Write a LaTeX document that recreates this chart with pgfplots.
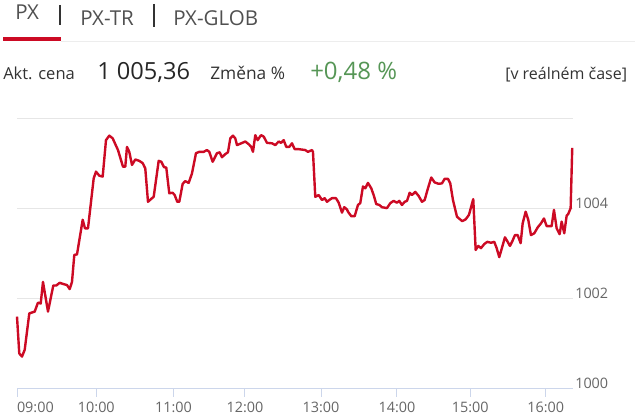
\documentclass[border=0pt]{standalone}
\usepackage{pgfplots}
\pgfplotsset{compat=1.18}
\usepackage{pgfplotstable}
\usepackage{fontspec}
\setmainfont{Open Sans}

\definecolor{pxred}{RGB}{204,10,36}
\definecolor{pxgreen}{RGB}{86,150,86}
\definecolor{gridgray}{RGB}{230,230,230}
\definecolor{axisblue}{RGB}{204,214,235}
\definecolor{ticktext}{RGB}{102,102,102}
\definecolor{headgray}{RGB}{80,80,80}
\definecolor{darktext}{RGB}{51,51,51}

% minutes after 09:00, index value
\pgfplotstableread{
t v
0.00 1001.61
1.80 1000.79
3.97 1000.72
6.11 1000.87
9.77 1001.68
14.05 1001.72
16.67 1001.92
18.82 1001.90
20.64 1002.38
24.61 1001.72
28.82 1002.30
31.20 1002.30
33.90 1002.36
37.08 1002.33
39.70 1002.31
41.84 1002.22
43.67 1002.38
45.50 1002.98
47.64 1002.99
52.16 1003.76
53.99 1003.57
56.37 1003.57
60.90 1004.68
62.72 1004.83
65.35 1004.74
68.04 1004.72
70.66 1005.53
73.28 1005.63
75.98 1005.57
80.19 1005.31
84.16 1004.94
85.99 1004.94
87.34 1005.38
89.16 1005.27
91.31 1004.98
93.93 1005.10
97.10 1005.07
99.80 1005.02
101.87 1004.90
104.01 1004.16
107.19 1004.24
108.54 1004.27
112.51 1005.07
114.57 1005.05
116.72 1004.93
118.54 1004.92
120.92 1004.35
123.62 1004.36
125.21 1004.31
127.28 1004.16
128.86 1004.16
131.56 1004.56
133.62 1004.62
136.32 1004.58
138.95 1004.79
142.12 1005.24
144.74 1005.27
148.24 1005.27
150.86 1005.31
152.68 1005.27
155.38 1005.05
158.80 1005.24
160.94 1005.26
162.77 1005.15
165.39 1005.22
167.53 1005.26
169.36 1005.57
171.50 1005.63
173.33 1005.57
174.68 1005.42
178.09 1005.46
181.27 1005.50
183.97 1005.44
186.03 1005.38
187.38 1005.27
189.21 1005.64
191.11 1005.53
193.73 1005.64
195.88 1005.61
198.50 1005.47
202.47 1005.46
205.09 1005.42
207.79 1005.50
209.62 1005.47
211.76 1005.53
213.82 1005.38
216.20 1005.38
218.35 1005.46
220.49 1005.33
223.67 1005.33
228.91 1005.31
231.05 1005.27
234.23 1005.31
235.02 1005.27
236.85 1004.27
239.55 1004.31
242.17 1004.20
244.31 1004.24
246.14 1004.16
247.96 1004.20
250.11 1004.24
253.28 1004.24
255.43 1004.14
258.05 1003.92
259.87 1004.04
262.02 1003.99
262.81 1003.94
265.43 1003.84
268.13 1003.84
270.75 1004.09
272.57 1004.13
274.72 1004.50
276.54 1004.46
278.69 1004.58
281.31 1004.46
283.21 1004.31
285.28 1004.11
287.66 1004.09
289.81 1004.04
293.78 1004.02
296.40 1004.13
299.10 1004.18
301.72 1004.14
303.55 1004.18
305.69 1004.09
307.83 1004.16
309.66 1004.18
311.80 1004.36
313.63 1004.31
316.25 1004.38
318.95 1004.29
321.57 1004.16
323.71 1004.20
326.33 1004.46
328.95 1004.70
331.65 1004.59
334.83 1004.56
337.45 1004.57
339.59 1004.67
342.21 1004.67
344.04 1004.57
346.18 1004.20
349.36 1003.83
350.95 1003.79
353.57 1003.73
356.27 1003.77
358.89 1003.87
362.30 1004.22
364.21 1003.09
366.27 1003.18
368.42 1003.13
371.04 1003.22
373.42 1003.27
376.36 1003.25
378.98 1003.27
380.88 1003.13
382.95 1002.93
385.33 1003.16
387.47 1003.37
389.62 1003.27
391.44 1003.18
393.59 1003.30
395.41 1003.42
397.56 1003.42
399.94 1003.24
401.53 1003.68
403.91 1003.94
405.97 1003.76
408.12 1003.42
410.74 1003.46
413.44 1003.59
416.06 1003.68
418.44 1003.79
420.58 1003.62
424.55 1003.62
426.38 1003.98
428.52 1003.57
430.90 1003.44
432.49 1003.72
434.55 1003.46
436.46 1003.85
437.73 1003.89
439.63 1004.02
440.90 1005.36
}\pxdata

\begin{document}
\begin{tikzpicture}[x=0.75pt,y=0.75pt]
\path (0,0) rectangle (640,418);

% tabs
\node[anchor=base west,inner sep=0pt,text=headgray,font=\fontsize{15.4}{18}\selectfont] at (15,398) {PX};
\draw[darktext,line width=0.9pt] (60,413) -- (60,393);
\node[anchor=base west,inner sep=0pt,text=headgray,font=\fontsize{15.4}{18}\selectfont] at (80,392.3) {PX-TR};
\draw[darktext,line width=0.9pt] (154,414) -- (154,391);
\node[anchor=base west,inner sep=0pt,text=headgray,font=\fontsize{15.4}{18}\selectfont] at (173,392.3) {PX-GLOB};
\fill[pxred] (3,377.3) rectangle (61,380.7);
\draw[gridgray!80!gray!40,line width=0.9pt] (61,376.3) -- (635,376.3);

% quote line
\node[anchor=base west,inner sep=0pt,text=darktext,font=\fontsize{12.4}{15}\selectfont] at (3,338) {Akt. cena};
\node[anchor=base west,inner sep=0pt,text=black!85,font=\fontsize{17.7}{20}\selectfont] at (97,338) {1 005,36};
\node[anchor=base west,inner sep=0pt,text=darktext,font=\fontsize{13}{15}\selectfont] at (210,338) {Změna \%};
\node[anchor=base west,inner sep=0pt,text=pxgreen,font=\fontsize{18}{21}\selectfont] at (310,338) {+0,48 \%};
\node[anchor=base west,inner sep=0pt,text=darktext,font=\fontsize{12}{15}\selectfont] at (505,338) {[v reálném čase]};

\begin{axis}[
  at={(12.75pt,21.75pt)}, anchor=south west,
  scale only axis, width=417pt, height=202.5pt,
  xmin=0, xmax=441.5, ymin=1000, ymax=1006,
  axis x line=bottom, axis y line=right,
  axis line style={-},
  x axis line style={axisblue, line width=0.75pt},
  y axis line style={draw=none},
  xtick={0,63.0,124.2,181.0,241.4,301.7,359.9,419.8},
  xticklabels={\makebox[0pt][l]{09:00},10:00,11:00,12:00,13:00,14:00,15:00,16:00},
  ytick={1000,1002,1004,1006},
  yticklabels={1000,1002,1004,{}},
  tick align=outside,
  major tick length=6pt,
  xtick style={axisblue, line width=0.75pt},
  ytick style={draw=none},
  ymajorgrids,
  grid style={gridgray, line width=0.75pt},
  tick label style={text=ticktext, font=\fontsize{10.8}{13}\selectfont, inner sep=0pt},
  xticklabel style={anchor=north, yshift=-3.5pt},
  yticklabel style={anchor=west, xshift=-4.5pt, yshift=4.6pt},
  clip=false,
]
\addplot[pxred, line width=1.8pt, line join=round] table[x=t, y=v] {\pxdata};
\end{axis}
\end{tikzpicture}
\end{document}
